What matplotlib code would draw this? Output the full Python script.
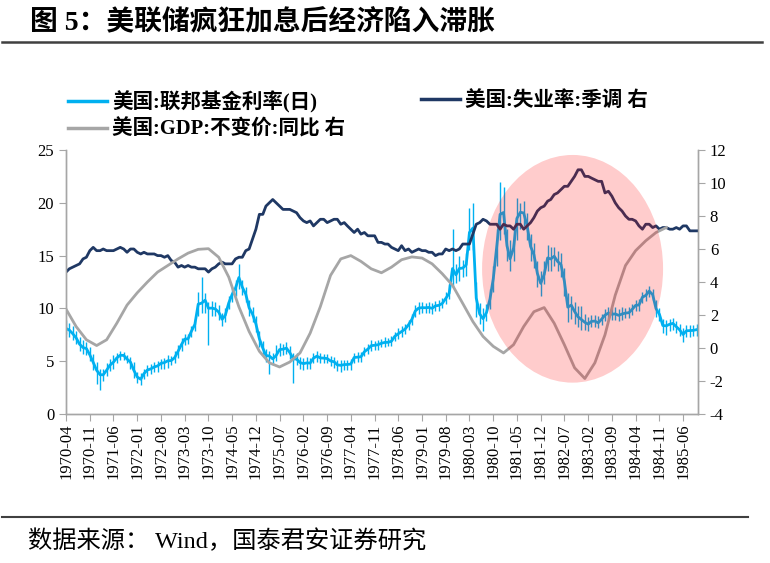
import matplotlib
matplotlib.use("Agg")
import matplotlib.pyplot as plt
import matplotlib.dates as mdates
from matplotlib.patches import Ellipse
from matplotlib.lines import Line2D
import pandas as pd

plt.rcParams['font.family'] = ['Liberation Serif', 'Noto Sans CJK SC']
plt.rcParams['axes.unicode_minus'] = False

# monthly values, 1970-04 .. 1985-10
fed_rate = [
    8.10, 7.94, 7.60, 7.21, 6.61, 6.29, 6.20, 5.60, 4.90,
    4.14, 3.72, 3.71, 4.15, 4.63, 4.91, 5.31, 5.56, 5.55, 5.20, 4.91, 4.14,
    3.50, 3.29, 3.83, 4.17, 4.27, 4.46, 4.55, 4.80, 4.87, 5.04, 5.06, 5.33,
    5.94, 6.58, 7.09, 7.12, 7.84, 8.49, 10.40, 10.50, 10.78, 10.01, 10.03, 9.95,
    9.65, 8.97, 9.35, 10.51, 11.31, 11.93, 12.92, 12.01, 11.34, 10.06, 9.45, 8.53,
    7.13, 6.24, 5.54, 5.49, 5.22, 5.55, 6.10, 6.14, 6.24, 5.82, 5.22, 5.20,
    4.87, 4.77, 4.84, 4.82, 5.29, 5.48, 5.31, 5.29, 5.25, 5.02, 4.95, 4.65,
    4.61, 4.68, 4.69, 4.73, 5.35, 5.39, 5.42, 5.90, 6.14, 6.47, 6.51, 6.56,
    6.70, 6.78, 6.79, 6.89, 7.36, 7.60, 7.81, 8.04, 8.45, 8.96, 9.76, 10.03,
    10.07, 10.06, 10.09, 10.01, 10.24, 10.29, 10.47, 10.94, 11.43, 13.77, 13.18, 13.78,
    13.82, 14.13, 17.19, 17.61, 10.98, 9.47, 9.03, 9.61, 10.87, 12.81, 15.85, 18.90,
    19.08, 15.93, 14.70, 15.72, 18.52, 19.10, 19.04, 17.82, 15.87, 15.08, 13.31, 12.37,
    13.22, 14.78, 14.68, 14.94, 14.45, 14.15, 12.59, 10.12, 10.31, 9.71, 9.20, 8.95,
    8.68, 8.51, 8.77, 8.80, 8.63, 8.98, 9.37, 9.56, 9.45, 9.48, 9.34, 9.47,
    9.56, 9.59, 9.91, 10.29, 10.32, 11.06, 11.23, 11.64, 11.30, 9.99, 9.43, 8.38,
    8.35, 8.50, 8.58, 8.27, 7.97, 7.53, 7.88, 7.90, 7.92, 7.99,
]
# daily highs / lows within each month
fed_high = [
    8.9, 8.6, 8.3, 7.9, 7.3, 7.0, 6.8, 6.3, 5.7,
    4.9, 4.3, 4.3, 4.8, 5.2, 5.6, 5.8, 6.0, 5.9, 5.6, 5.4, 4.9,
    4.0, 3.9, 4.3, 4.6, 4.7, 4.9, 5.0, 5.2, 5.3, 5.6, 5.5, 6.0,
    6.5, 7.2, 7.6, 7.6, 8.3, 9.0, 11.6, 13.0, 11.5, 10.6, 10.7, 10.6,
    10.3, 9.6, 10.0, 11.2, 12.0, 12.7, 14.2, 12.7, 12.0, 10.8, 10.1, 9.3,
    7.9, 6.9, 6.2, 6.0, 5.8, 6.5, 6.7, 6.6, 6.8, 6.4, 5.8, 5.8,
    5.4, 5.3, 5.4, 5.3, 5.8, 6.0, 5.8, 5.7, 5.7, 5.5, 5.4, 5.1,
    5.1, 5.1, 5.1, 5.2, 5.8, 5.9, 5.9, 6.3, 6.6, 7.0, 6.9, 7.0,
    7.1, 7.3, 7.2, 7.4, 7.8, 8.1, 8.3, 8.5, 8.9, 9.5, 10.3, 10.6,
    10.6, 10.5, 10.6, 10.5, 10.7, 10.8, 11.0, 11.6, 12.3, 17.5, 14.2, 15.0,
    14.6, 15.2, 19.5, 20.0, 12.5, 10.5, 10.0, 10.4, 11.8, 14.0, 17.5, 22.0,
    21.5, 17.5, 16.5, 17.5, 20.5, 20.0, 20.2, 19.0, 17.0, 16.2, 14.5, 13.5,
    14.5, 16.0, 15.8, 15.8, 15.4, 15.2, 13.8, 11.5, 11.2, 10.6, 10.2, 10.2,
    9.5, 9.2, 9.4, 9.4, 9.3, 9.5, 9.9, 10.1, 10.0, 10.1, 9.9, 10.1,
    10.0, 10.1, 10.4, 10.8, 10.9, 11.6, 11.8, 12.1, 11.8, 10.8, 10.0, 9.0,
    8.9, 9.0, 9.1, 8.8, 8.5, 8.1, 8.4, 8.4, 8.4, 8.5,
]
fed_low = [
    7.6, 7.3, 7.0, 6.6, 6.0, 5.7, 5.6, 5.0, 4.2,
    2.8, 2.3, 3.1, 3.6, 4.1, 4.3, 4.8, 5.1, 5.1, 4.8, 4.3, 3.4,
    2.9, 2.7, 3.3, 3.6, 3.8, 4.0, 4.0, 4.3, 4.3, 4.4, 4.6, 4.8,
    5.3, 6.0, 6.5, 6.6, 7.3, 7.9, 9.3, 9.6, 9.6, 6.5, 9.3, 9.3,
    8.9, 8.3, 8.7, 9.9, 10.6, 11.2, 11.8, 11.3, 10.6, 9.3, 8.7, 7.8,
    6.3, 5.6, 4.9, 3.8, 4.6, 5.0, 5.5, 5.6, 5.7, 5.2, 2.9, 4.6,
    4.3, 4.2, 4.3, 4.3, 4.8, 4.9, 4.8, 4.8, 4.8, 4.5, 4.4, 4.1,
    4.0, 4.2, 4.2, 4.2, 4.8, 4.9, 4.9, 5.5, 5.7, 6.0, 6.1, 6.1,
    6.3, 6.3, 6.4, 6.4, 6.9, 7.1, 7.3, 7.6, 8.0, 8.4, 9.2, 9.5,
    9.6, 9.6, 9.6, 9.5, 9.8, 9.8, 10.0, 10.4, 10.9, 12.0, 12.4, 12.6,
    13.0, 13.1, 15.5, 15.5, 9.2, 8.5, 7.9, 8.8, 9.9, 11.6, 14.0, 16.5,
    17.0, 14.5, 13.5, 14.5, 16.5, 17.5, 17.8, 16.5, 14.5, 13.8, 12.0, 11.2,
    12.3, 13.5, 13.5, 14.0, 13.5, 13.0, 11.2, 8.7, 9.0, 8.5, 8.2, 8.0,
    8.0, 7.9, 8.2, 8.2, 8.1, 8.4, 8.8, 9.0, 8.9, 8.9, 8.8, 8.9,
    9.1, 9.1, 9.4, 9.8, 9.8, 10.5, 10.7, 11.1, 10.8, 9.2, 8.8, 7.7,
    7.5, 7.9, 8.0, 7.7, 7.4, 6.8, 7.3, 7.3, 7.4, 7.4,
]
unemployment = [
    4.6, 4.8, 4.9, 5.0, 5.1, 5.4, 5.5, 5.9, 6.1,
    5.9, 5.9, 6.0, 5.9, 5.9, 5.9, 6.0, 6.1, 6.0, 5.8, 6.0, 6.0,
    5.8, 5.7, 5.8, 5.7, 5.7, 5.7, 5.6, 5.6, 5.5, 5.6, 5.3, 5.2,
    4.9, 5.0, 4.9, 5.0, 4.9, 4.9, 4.8, 4.8, 4.8, 4.6, 4.8, 4.9,
    5.1, 5.2, 5.1, 5.1, 5.1, 5.4, 5.5, 5.5, 5.9, 6.0, 6.6, 7.2,
    8.1, 8.1, 8.6, 8.8, 9.0, 8.8, 8.6, 8.4, 8.4, 8.4, 8.3, 8.2,
    7.9, 7.7, 7.6, 7.7, 7.4, 7.6, 7.8, 7.8, 7.6, 7.7, 7.8, 7.8,
    7.5, 7.6, 7.4, 7.2, 7.0, 7.2, 6.9, 7.0, 6.8, 6.8, 6.8, 6.4,
    6.4, 6.3, 6.3, 6.1, 6.0, 5.9, 6.2, 5.9, 6.0, 5.8, 5.9, 6.0,
    5.9, 5.9, 5.8, 5.8, 5.6, 5.7, 5.7, 6.0, 5.9, 6.0, 5.9, 6.0,
    6.3, 6.3, 6.3, 6.9, 7.5, 7.6, 7.8, 7.7, 7.5, 7.5, 7.5, 7.2,
    7.5, 7.4, 7.4, 7.2, 7.5, 7.5, 7.2, 7.4, 7.6, 7.9, 8.3, 8.5,
    8.6, 8.9, 9.0, 9.3, 9.4, 9.6, 9.8, 9.8, 10.1, 10.4, 10.8, 10.8,
    10.4, 10.4, 10.3, 10.2, 10.1, 10.1, 9.4, 9.5, 9.2, 8.8, 8.5, 8.3,
    8.0, 7.8, 7.8, 7.7, 7.4, 7.2, 7.5, 7.5, 7.3, 7.4, 7.2, 7.3,
    7.3, 7.2, 7.2, 7.3, 7.2, 7.4, 7.4, 7.1, 7.1, 7.1,
]
# every 3 months from 1970-04
gdp_yoy = [
    2.36, 1.3, 0.5, 0.15, 0.5, 1.5, 2.6, 3.35, 4.0, 4.6,
    5.0, 5.4, 5.75, 5.98, 6.02, 5.5, 4.3, 2.5, 1.0, -0.2,
    -0.9, -1.15, -0.85, -0.3, 0.9, 2.5, 4.4, 5.4, 5.6, 5.25,
    4.8, 4.56, 4.9, 5.35, 5.52, 5.45, 5.1, 4.5, 3.8, 2.7,
    1.6, 0.7, 0.1, -0.3, 0.2, 1.3, 2.2, 2.45, 1.5, 0.2,
    -1.2, -1.85, -0.9, 0.8, 3.2, 5.0, 5.9, 6.5, 7.0, 7.3,
]

labels = ["美国:联邦基金利率(日)", "美国:失业率:季调 右", "美国:GDP:不变价:同比 右"]
colors = ["#00B0F0", "#1F3864", "#A6A6A6"]

months = pd.date_range("1970-04-01", periods=len(fed_rate), freq="MS")
quarters = pd.date_range("1970-04-01", periods=len(gdp_yoy), freq="3MS")
ticks = pd.date_range("1970-04-01", "1985-06-01", freq="7MS")

fig = plt.figure(figsize=(7.7, 5.63), dpi=100)
ax = fig.add_axes([66 / 770, 1 - 414 / 563, 632 / 770, 264 / 563])
ax2 = ax.twinx()

ax.vlines(months, fed_low, fed_high, color=colors[0], lw=1.0)
ax.plot(months, fed_rate, color=colors[0], lw=2.0)
ax2.plot(months, unemployment, color=colors[1], lw=2.0)
ax2.plot(quarters, gdp_yoy, color=colors[2], lw=2.0)

# highlight ellipse, centre / size in right-axis units
ell = Ellipse((mdates.date2num(pd.Timestamp("1982-09-13")), 4.8),
              width=1625, height=13.8, facecolor="red", alpha=0.2,
              edgecolor="none", zorder=5)
ax2.add_patch(ell)

ax.set_xlim(pd.Timestamp("1970-04-01"), pd.Timestamp("1985-10-13"))
ax.set_ylim(0, 25)
ax2.set_ylim(-4, 12)
ax.set_yticks(range(0, 26, 5))
ax2.set_yticks(range(-4, 13, 2))
ax.set_xticks(ticks)
ax.set_xticklabels([t.strftime("%Y-%m") for t in ticks], rotation=90)

spine_c = "#A6A6A6"
for a in (ax, ax2):
    a.spines["top"].set_visible(False)
    for s in ("left", "right", "bottom"):
        a.spines[s].set_color(spine_c)
        a.spines[s].set_linewidth(1.0)
    a.tick_params(axis="both", color=spine_c, length=5, labelsize=12, labelcolor="black")
ax.tick_params(axis="x", pad=2)

h = [Line2D([], [], color=c, lw=2.5) for c in colors]
leg_font = dict(family=['Liberation Serif', 'Noto Sans CJK SC'], weight="bold", size=14.8)
leg_kw = dict(frameon=False, handlelength=1.9, handletextpad=0.25,
              borderpad=0, borderaxespad=0, labelspacing=0.3, prop=leg_font)
fig.legend([h[0], h[2]], [labels[0], labels[2]], loc="upper left",
           bbox_to_anchor=(68 / 770, 1 - 91 / 563), **leg_kw)
fig.legend([h[1]], [labels[1]], loc="upper left",
           bbox_to_anchor=(421 / 770, 1 - 91 / 563), **leg_kw)

fig.text(30 / 770, 1 - 22 / 563, "图 5：美联储疯狂加息后经济陷入滞胀", fontsize=20,
         fontweight="bold", va="center", ha="left")
fig.add_artist(Line2D([2 / 770, 762 / 770], [1 - 42 / 563] * 2, color="#404040", lw=1.8))
fig.add_artist(Line2D([2 / 770, 748 / 770], [1 - 517 / 563] * 2, color="#404040", lw=1.5))
fig.text(28 / 770, 1 - 541 / 563, "数据来源： Wind，国泰君安证券研究", fontsize=17.5,
         va="center", ha="left")

fig.savefig("out.png", dpi=100)
